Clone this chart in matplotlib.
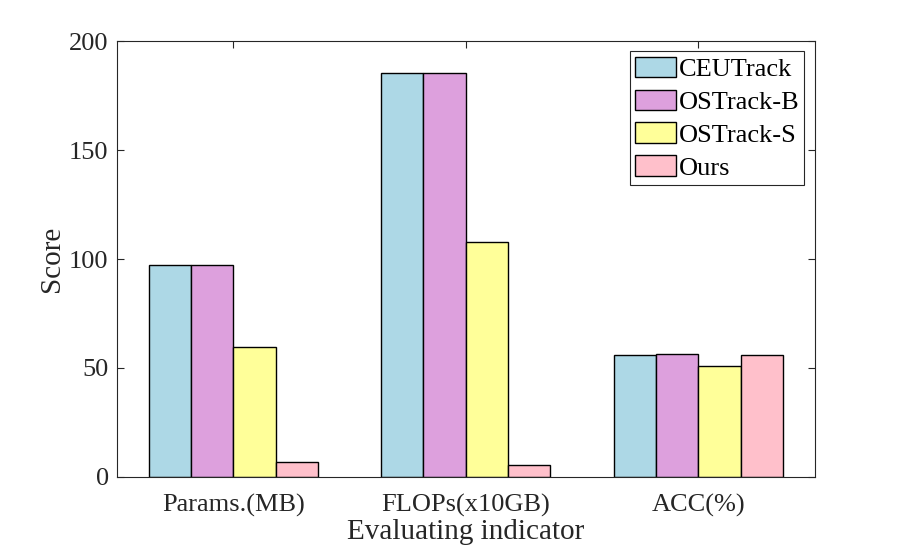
import matplotlib
matplotlib.use("Agg")
import matplotlib.pyplot as plt
import numpy as np

categories = ["Params.(MB)", "FLOPs(x10GB)", "ACC(%)"]
series_names = ["CEUTrack", "OSTrack-B", "OSTrack-S", "Ours"]
ceutrack = [97.2, 185.5, 56.1]
ostrack_b = [97.2, 185.5, 56.6]
ostrack_s = [59.8, 107.7, 50.7]
ours = [6.9, 5.5, 55.8]
colors = ["#ADD8E6", "#DDA0DD", "#FFFF99", "#FFC0CB"]

plt.rcParams['font.family'] = ['Liberation Serif', 'DejaVu Serif']
fs = 19
lfs = 21
ink = "#262626"

fig = plt.figure(figsize=(9, 5.5), dpi=100)
ax = fig.add_axes([0.13, 0.133, 0.775, 0.792])

data = [ceutrack, ostrack_b, ostrack_s, ours]
x = np.arange(1, len(categories) + 1)
n = len(data)
gw = n / (n + 1.5)
bw = gw / n
for i, (vals, name, c) in enumerate(zip(data, series_names, colors)):
    offs = (i - (n - 1) / 2) * bw
    ax.bar(x + offs, vals, width=bw, color=c, edgecolor="black", linewidth=1.0,
           label=name, zorder=2)

ax.set_xlim(0.5, 3.5)
ax.set_ylim(0, 200)
ax.set_yticks([0, 50, 100, 150, 200])
ax.set_xticks(x)
ax.set_xticklabels(categories)
ax.tick_params(direction="in", top=True, right=True, length=5, width=0.8,
               colors=ink, labelsize=fs)
ax.tick_params(axis="x", pad=12)
ax.tick_params(axis="y", pad=6)
for s in ax.spines.values():
    s.set_color(ink)
    s.set_linewidth(0.8)
ax.set_xlabel("Evaluating indicator", fontsize=lfs, color=ink, labelpad=2)
ax.set_ylabel("Score", fontsize=lfs, color=ink, labelpad=3)

leg = ax.legend(loc="upper right", fontsize=fs, fancybox=False, framealpha=1,
                edgecolor=ink, borderaxespad=0.38, handlelength=1.55,
                handleheight=0.83, handletextpad=0.1, labelspacing=0.32,
                borderpad=0.2)
leg.get_frame().set_linewidth(0.8)

fig.savefig("out.png", dpi=100, facecolor="white")
